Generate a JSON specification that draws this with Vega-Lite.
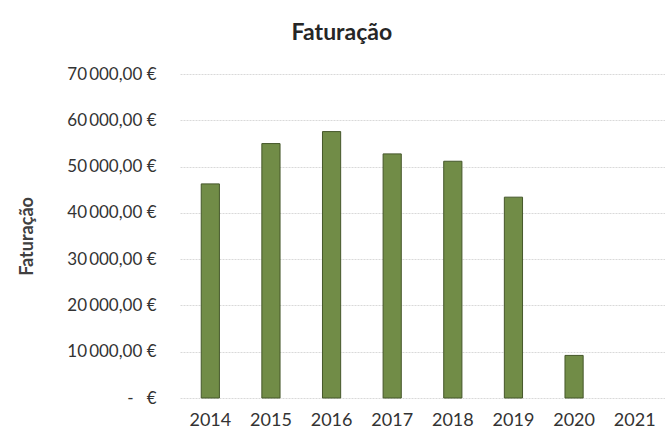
{
  "$schema": "https://vega.github.io/schema/vega-lite/v6.json",
  "width": 485,
  "height": 324,
  "autosize": {"type": "none"},
  "padding": {"left": 180, "top": 74, "right": 0, "bottom": 41},
  "background": "white",
  "title": {
    "text": "Faturação",
    "anchor": "middle",
    "frame": "bounds",
    "font": "Lato",
    "fontSize": 23,
    "fontWeight": "bold",
    "color": "#262626",
    "offset": 20
  },
  "data": {
    "values": [
      {"ano": "2014", "faturacao": 46260},
      {"ano": "2015", "faturacao": 54970},
      {"ano": "2016", "faturacao": 57560},
      {"ano": "2017", "faturacao": 52740},
      {"ano": "2018", "faturacao": 51150},
      {"ano": "2019", "faturacao": 43390},
      {"ano": "2020", "faturacao": 9200},
      {"ano": "2021", "faturacao": null}
    ]
  },
  "mark": {"type": "bar", "fill": "#718c47", "stroke": "#45572a", "strokeWidth": 1},
  "encoding": {
    "x": {
      "field": "ano",
      "type": "ordinal",
      "scale": {"domain": ["2014","2015","2016","2017","2018","2019","2020","2021"], "paddingInner": 0.7, "paddingOuter": 0.35},
      "axis": {
        "title": null,
        "labelAngle": 0,
        "labelFont": "Lato",
        "labelFontSize": 18,
        "labelColor": "#333333",
        "labelPadding": 13,
        "ticks": false,
        "domain": false
      }
    },
    "y": {
      "field": "faturacao",
      "type": "quantitative",
      "scale": {"domain": [0, 70000]},
      "axis": {
        "title": "Faturação",
        "titleFont": "Lato",
        "titleFontSize": 18,
        "titleFontWeight": "bold",
        "titleColor": "#404040",
        "titlePadding": 30,
        "values": [0, 10000, 20000, 30000, 40000, 50000, 60000, 70000],
        "labelExpr": "datum.value == 0 ? '-\u00a0\u00a0\u00a0€' : replace(replace(format(datum.value, ',.2f'), ',', '\u2009'), '.', ',') + '\u00a0€'",
        "labelFont": "Lato",
        "labelFontSize": 17,
        "labelColor": "#333333",
        "labelPadding": 24,
        "ticks": false,
        "domain": false,
        "grid": true,
        "gridColor": "#d9d9d9",
        "gridDash": [2, 1]
      }
    }
  },
  "config": {"view": {"stroke": null}}
}
